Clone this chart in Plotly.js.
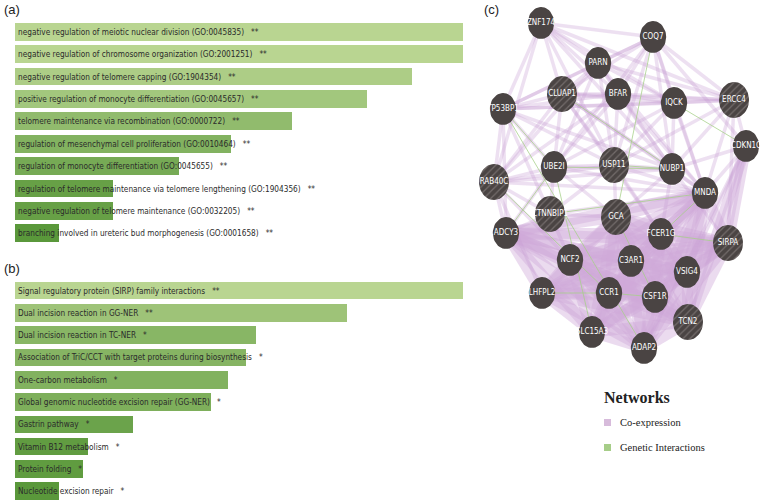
<!DOCTYPE html>
<html><head><meta charset="utf-8">
<script src="https://cdn.plot.ly/plotly-3.0.1.min.js"></script>
<style>html,body{margin:0;padding:0;background:#fff}#chart{width:762px;height:503px}</style>
</head><body><div id="chart"></div>
<script>
// ---------- Panel (a): GO terms ----------
const goTerms = [
  "negative regulation of meiotic nuclear division (GO:0045835)",
  "negative regulation of chromosome organization (GO:2001251)",
  "negative regulation of telomere capping (GO:1904354)",
  "positive regulation of monocyte differentiation (GO:0045657)",
  "telomere maintenance via recombination (GO:0000722)",
  "regulation of mesenchymal cell proliferation (GO:0010464)",
  "regulation of monocyte differentiation (GO:0045655)",
  "regulation of telomere maintenance via telomere lengthening (GO:1904356)",
  "negative regulation of telomere maintenance (GO:0032205)",
  "branching involved in ureteric bud morphogenesis (GO:0001658)"
];
const goScore = [4.48, 4.48, 3.97, 3.52, 2.77, 2.16, 1.64, 0.98, 0.98, 0.44];
const goStars = ["**", "**", "**", "**", "**", "**", "**", "**", "**", "**"];

// ---------- Panel (b): pathways ----------
const pathTerms = [
  "Signal regulatory protein (SIRP) family interactions",
  "Dual incision reaction in GG-NER",
  "Dual incision reaction in TC-NER",
  "Association of TriC/CCT with target proteins during biosynthesis",
  "One-carbon metabolism",
  "Global genomic nucleotide excision repair (GG-NER)",
  "Gastrin pathway",
  "Vitamin B12 metabolism",
  "Protein folding",
  "Nucleotide excision repair"
];
const pathScore = [4.48, 3.32, 2.41, 2.31, 2.13, 1.96, 1.18, 0.73, 0.68, 0.44];
const pathStars = ["**", "**", "*", "*", "*", "*", "*", "*", "*", "*"];

// ---------- Panel (c): network ----------
const genes = ["ZNF174","COQ7","PARN","CLUAP1","BFAR","IQCK","ERCC4","TP53BP1","CDKN1C","UBE2I","USP11","NUBP1","RAB40C","MNDA",
               "CTNNBIP1","GCA","ADCY3","FCER1G","SIRPA","NCF2","C3AR1","VSIG4","LHFPL2","CCR1","CSF1R","TCN2","SLC15A3","ADAP2"];
const geneX = [541,653,598,562,618,674,734,503,746,554,614,672,494,705,550,616,506,661,728,570,631,687,542,609,655,688,592,644];
const geneY = [23,37,63,94,94,103,100,109,146,167,165,169,182,193,214,217,233,234,243,260,261,272,293,293,297,322,332,348];
const queryGene = [0,0,0,1,0,0,1,0,0,0,1,0,1,0,1,1,0,0,1,0,0,0,0,0,0,1,0,0];

// co-expression links (first gene of each row linked to the others)
const coexpAdj = [
  "ZNF174 COQ7 PARN CLUAP1 BFAR TP53BP1 RAB40C ERCC4 IQCK NUBP1 USP11",
  "COQ7 PARN CLUAP1 BFAR IQCK ERCC4 NUBP1 USP11 TP53BP1 CDKN1C MNDA UBE2I",
  "PARN CLUAP1 BFAR IQCK ERCC4 TP53BP1 NUBP1 USP11 UBE2I MNDA RAB40C",
  "CLUAP1 BFAR IQCK ERCC4 TP53BP1 UBE2I USP11 NUBP1 RAB40C MNDA FCER1G",
  "BFAR IQCK ERCC4 TP53BP1 UBE2I USP11 NUBP1 MNDA RAB40C",
  "IQCK ERCC4 NUBP1 USP11 TP53BP1 MNDA UBE2I",
  "ERCC4 NUBP1 CDKN1C TP53BP1 SIRPA MNDA USP11",
  "TP53BP1 RAB40C UBE2I USP11 NUBP1 ADCY3 CTNNBIP1",
  "CDKN1C MNDA SIRPA TCN2 NUBP1 VSIG4 ADAP2",
  "UBE2I USP11 NUBP1 RAB40C MNDA CTNNBIP1 GCA ADCY3",
  "USP11 NUBP1 RAB40C MNDA GCA CTNNBIP1 FCER1G",
  "NUBP1 MNDA RAB40C FCER1G GCA SIRPA",
  "RAB40C ADCY3 LHFPL2 CTNNBIP1 MNDA NCF2",
  "CTNNBIP1 ADCY3 GCA MNDA NCF2"
];
// strong co-expression links of the myeloid cluster
const coexpStrongAdj = [
  "ADCY3 NCF2 LHFPL2 CCR1 C3AR1 GCA FCER1G VSIG4 CSF1R SLC15A3 ADAP2 TCN2 SIRPA MNDA",
  "NCF2 LHFPL2 CCR1 C3AR1 GCA FCER1G VSIG4 CSF1R SLC15A3 ADAP2 TCN2 SIRPA MNDA",
  "LHFPL2 CCR1 C3AR1 GCA FCER1G VSIG4 CSF1R SLC15A3 ADAP2 TCN2 SIRPA MNDA",
  "CCR1 C3AR1 GCA FCER1G VSIG4 CSF1R SLC15A3 ADAP2 TCN2 SIRPA MNDA",
  "C3AR1 GCA FCER1G VSIG4 CSF1R SLC15A3 ADAP2 TCN2 SIRPA MNDA",
  "GCA FCER1G VSIG4 CSF1R SLC15A3 ADAP2 TCN2 SIRPA MNDA",
  "FCER1G VSIG4 CSF1R SLC15A3 ADAP2 TCN2 SIRPA MNDA",
  "VSIG4 CSF1R SLC15A3 ADAP2 TCN2 SIRPA MNDA",
  "CSF1R SLC15A3 ADAP2 TCN2 SIRPA MNDA",
  "SLC15A3 ADAP2 TCN2 SIRPA MNDA",
  "ADAP2 TCN2 SIRPA MNDA",
  "TCN2 SIRPA MNDA",
  "SIRPA MNDA",
  "CDKN1C SIRPA TCN2"
];
const geneticAdj = [
  "TP53BP1 ADAP2", "LHFPL2 CCR1", "CCR1 CSF1R", "FCER1G SIRPA", "MNDA FCER1G", "GCA CSF1R",
  "UBE2I SLC15A3", "RAB40C CCR1", "USP11 NUBP1", "CLUAP1 NUBP1", "UBE2I NUBP1", "IQCK CDKN1C",
  "CTNNBIP1 MNDA", "ADCY3 UBE2I", "COQ7 GCA", "TP53BP1 UBE2I"
];

// ---------- build figure ----------
const traces = [];
const LIGHT = "#b9d591", DARK = "#5a983b";
const cs = [[0, DARK], [1, LIGHT]];

function barTrace(vals, cats, xa, ya) {
  return {
    type: "bar", orientation: "h", x: vals, y: cats, xaxis: xa, yaxis: ya, width: 0.79,
    marker: { color: vals, colorscale: cs, cmin: Math.min(...vals), cmax: Math.max(...vals), line: { width: 0 } },
    hoverinfo: "skip", showlegend: false
  };
}
traces.push(barTrace(goScore, goTerms, "x", "y"));
traces.push(barTrace(pathScore, pathTerms, "x2", "y2"));

const idx = {};
genes.forEach((g, i) => idx[g] = i);

function edgeTraces(adj, color, width) {
  adj.forEach(row => {
    const parts = row.trim().split(/\s+/);
    const s = idx[parts[0]];
    parts.slice(1).forEach(t => {
      const j = idx[t];
      traces.push({
        type: "scatter", mode: "lines", x: [geneX[s], geneX[j]], y: [geneY[s], geneY[j]],
        xaxis: "x3", yaxis: "y3", line: { color: color, width: width }, hoverinfo: "skip", showlegend: false
      });
    });
  });
}
edgeTraces(coexpStrongAdj, "rgba(208,170,216,0.42)", 11);
edgeTraces(coexpAdj, "rgba(200,160,212,0.32)", 3.5);
edgeTraces(geneticAdj, "rgba(165,208,135,0.85)", 0.9);

function nodeTrace(filterQuery) {
  const xs = [], ys = [];
  genes.forEach((g, i) => {
    if (queryGene[i] !== filterQuery) return;
    const rx = filterQuery ? 15 : 13.2, ry = filterQuery ? 18 : 16;
    for (let k = 0; k <= 48; k++) {
      const a = 2 * Math.PI * k / 48;
      xs.push(geneX[i] + rx * Math.cos(a));
      ys.push(geneY[i] + ry * Math.sin(a));
    }
    xs.push(null); ys.push(null);
  });
  const t = {
    type: "scatter", mode: "lines", x: xs, y: ys, xaxis: "x3", yaxis: "y3",
    fill: "toself", fillcolor: "#4a4443", line: { width: 0, color: "#4a4443" },
    hoverinfo: "skip", showlegend: false
  };
  if (filterQuery) {
    t.fillpattern = { shape: "/", bgcolor: "#4a4443", fgcolor: "#736c6b", size: 5, solidity: 0.25, fillmode: "replace" };
  }
  return t;
}
traces.push(nodeTrace(0));
traces.push(nodeTrace(1));
traces.push({
  type: "scatter", mode: "text", x: geneX, y: geneY, text: genes, xaxis: "x3", yaxis: "y3",
  textposition: "middle center",
  textfont: { color: "#ffffff", size: 8, family: "Liberation Sans Narrow, DejaVu Sans Condensed, Arial Narrow, sans-serif" },
  hoverinfo: "skip", showlegend: false
});

const annotations = [];
const labFont = { size: 8.2, color: "#2b2b2b", family: "Liberation Sans Narrow, Arial Narrow, DejaVu Sans Condensed, sans-serif" };
function barLabels(terms, stars, xr, yr) {
  terms.forEach((t, i) => {
    annotations.push({
      x: 0, y: t, xref: xr, yref: yr, xanchor: "left", yanchor: "middle", xshift: 1,
      text: t + "\u00a0\u00a0\u00a0" + stars[i], showarrow: false, font: labFont
    });
  });
}
barLabels(goTerms, goStars, "x", "y");
barLabels(pathTerms, pathStars, "x2", "y2");

const panelFont = { size: 13, color: "#222", family: "Liberation Sans, Arial, sans-serif" };
annotations.push({ x: 2 / 762, y: 1 - 9 / 503, xref: "paper", yref: "paper", xanchor: "left", yanchor: "middle", text: "(a)", showarrow: false, font: panelFont });
annotations.push({ x: 2 / 762, y: 1 - 268 / 503, xref: "paper", yref: "paper", xanchor: "left", yanchor: "middle", text: "(b)", showarrow: false, font: panelFont });
annotations.push({ x: 482 / 762, y: 1 - 9 / 503, xref: "paper", yref: "paper", xanchor: "left", yanchor: "middle", text: "(c)", showarrow: false, font: panelFont });

const serif = "Liberation Serif, DejaVu Serif, serif";
annotations.push({ x: 602 / 762, y: 1 - 397 / 503, xref: "paper", yref: "paper", xanchor: "left", yanchor: "middle", text: "<b>Networks</b>", showarrow: false, font: { size: 16, color: "#222", family: serif } });
annotations.push({ x: 618 / 762, y: 1 - 422 / 503, xref: "paper", yref: "paper", xanchor: "left", yanchor: "middle", text: "Co-expression", showarrow: false, font: { size: 10.5, color: "#222", family: serif } });
annotations.push({ x: 618 / 762, y: 1 - 447 / 503, xref: "paper", yref: "paper", xanchor: "left", yanchor: "middle", text: "Genetic Interactions", showarrow: false, font: { size: 10.5, color: "#222", family: serif } });

const shapes = [
  { type: "rect", xref: "paper", yref: "paper", x0: 604 / 762, x1: 611 / 762, y0: 1 - 426 / 503, y1: 1 - 419 / 503, fillcolor: "#d7bbdb", line: { width: 0 } },
  { type: "rect", xref: "paper", yref: "paper", x0: 604 / 762, x1: 611 / 762, y0: 1 - 451 / 503, y1: 1 - 444 / 503, fillcolor: "#a6cd88", line: { width: 0 } }
];

const hidden = { showgrid: false, zeroline: false, showticklabels: false, ticks: "", showline: false, fixedrange: true };
const layout = {
  width: 762, height: 503, margin: { l: 0, r: 0, t: 0, b: 0 },
  paper_bgcolor: "#ffffff", plot_bgcolor: "rgba(0,0,0,0)", showlegend: false, bargap: 0,
  xaxis: Object.assign({}, hidden, { domain: [15 / 762, 463 / 762], range: [0, 4.48] }),
  yaxis: Object.assign({}, hidden, { domain: [1 - 244.5 / 503, 1 - 20.5 / 503], type: "category", range: [9.5, -0.5] }),
  xaxis2: Object.assign({}, hidden, { domain: [15 / 762, 463 / 762], range: [0, 4.48], anchor: "y2" }),
  yaxis2: Object.assign({}, hidden, { domain: [1 - 502.4 / 503, 1 - 279.4 / 503], type: "category", range: [9.5, -0.5], anchor: "x2" }),
  xaxis3: Object.assign({}, hidden, { domain: [470 / 762, 1], range: [470, 762], anchor: "y3" }),
  yaxis3: Object.assign({}, hidden, { domain: [0, 1], range: [503, 0], anchor: "x3" }),
  annotations: annotations, shapes: shapes
};
Plotly.newPlot("chart", traces, layout, { staticPlot: true, displayModeBar: false });
</script>
</body></html>
